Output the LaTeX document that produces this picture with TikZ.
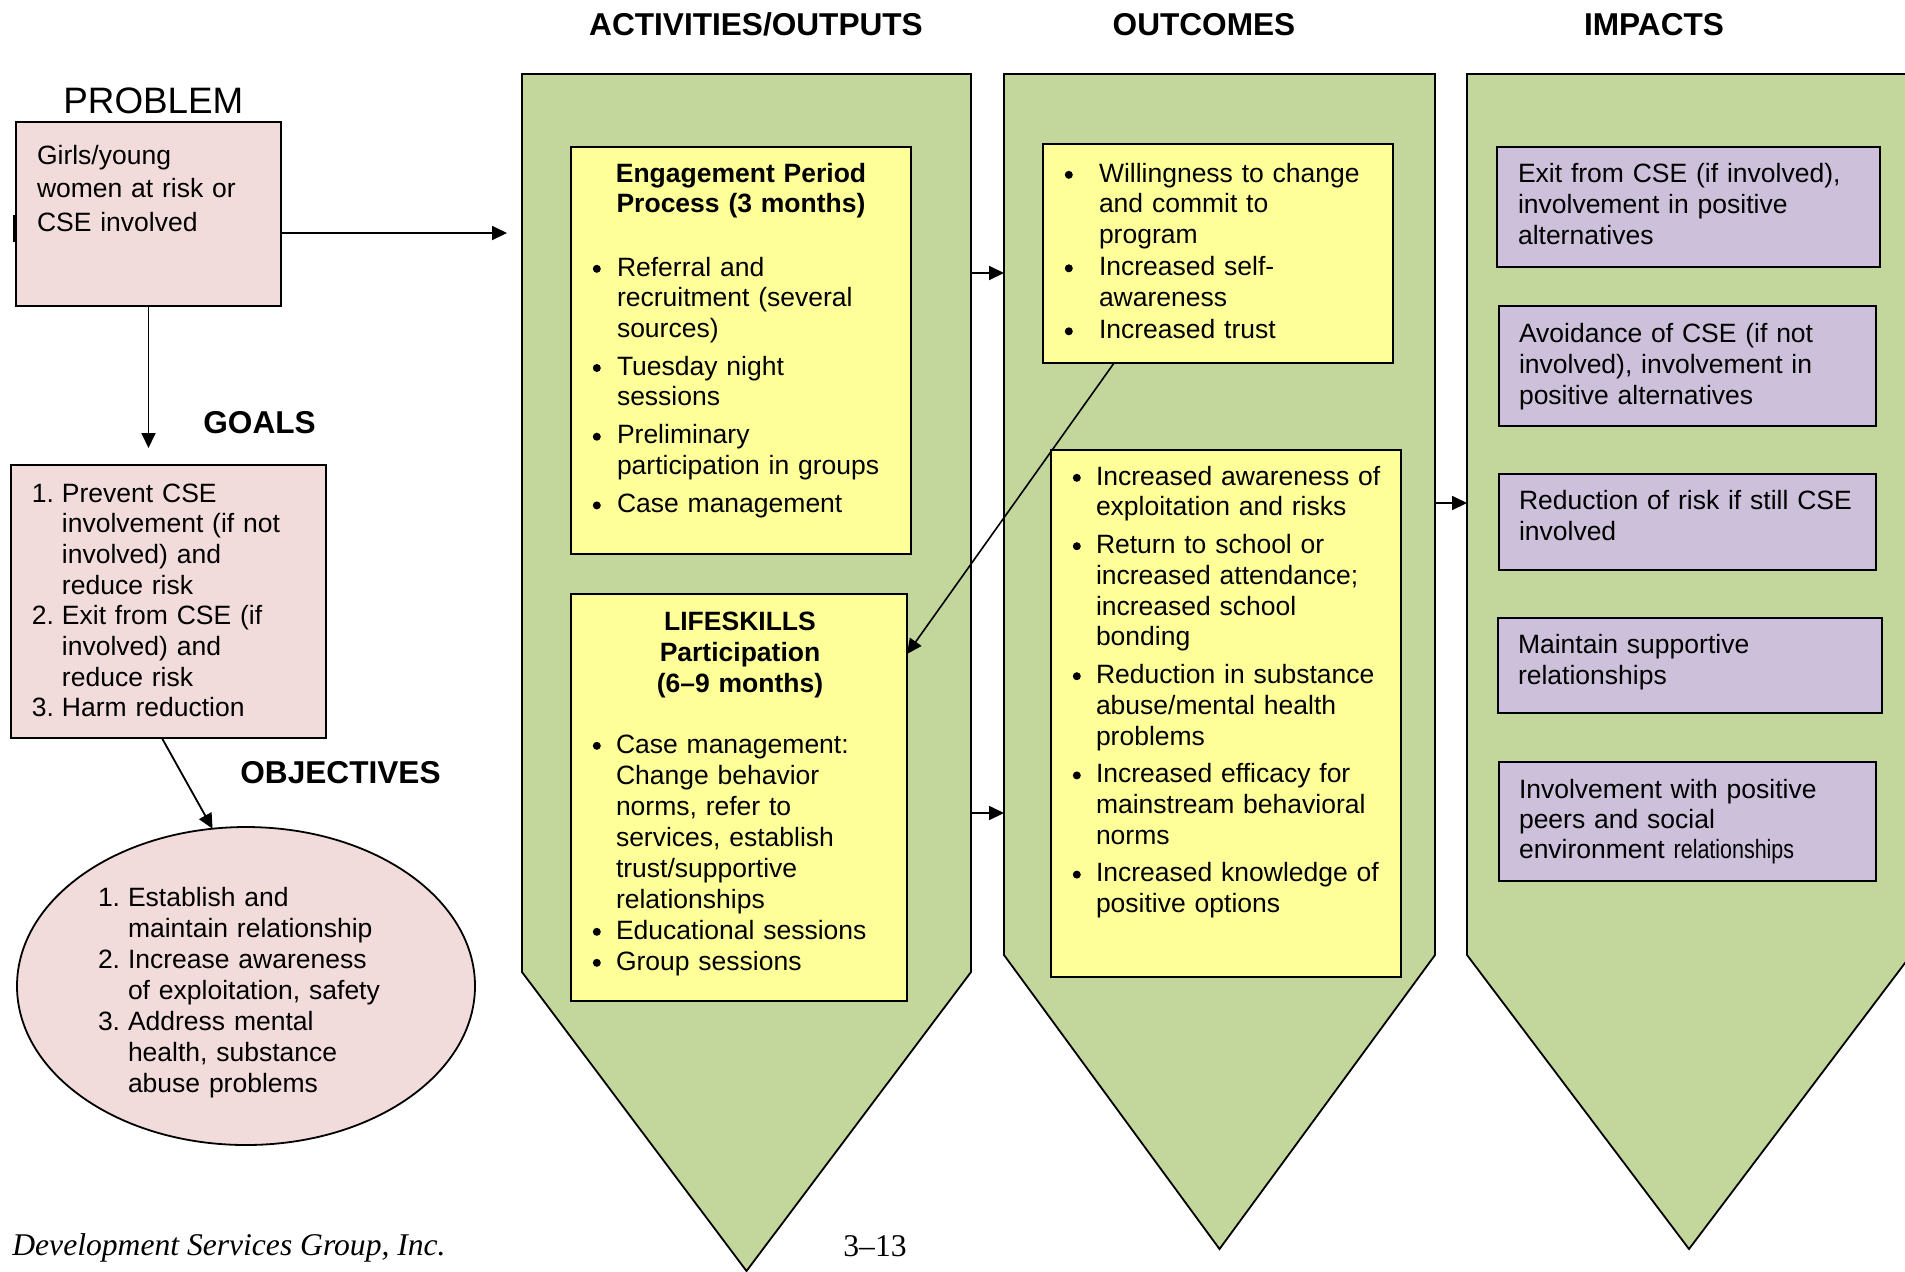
\documentclass[tikz,border=0pt]{standalone}
\usepackage{fontspec}
\usepackage{graphicx}
\setmainfont{Liberation Sans}
\newfontfamily\timesf{Liberation Serif}
\usetikzlibrary{arrows.meta,shapes.geometric,calc}
\definecolor{pinkf}{HTML}{F2DCDB}
\definecolor{greenf}{HTML}{C3D69B}
\definecolor{yellowf}{HTML}{FFFF99}
\definecolor{purplef}{HTML}{CCC0DA}
\setlength{\parskip}{0pt}
\newcommand\fs{\rule{0pt}{10pt}}
\newcommand\nl{\hfil\break}
\newcommand\bdot{\tikz[baseline=0pt]\fill[black] (0pt,3.6pt) circle (2pt);}
\newcommand\bitem[2]{\hangindent=#1\hangafter=1\noindent\hbox to #1{\fs\hskip0.4pt\bdot\hfil}#2\par}
\newcommand\nitem[3]{\hangindent=#1\hangafter=1\noindent\hbox to #1{\fs#2\hfil}#3\par}
\newcommand\bodyf[1]{\fontsize{13.25}{#1}\selectfont}
\tikzset{
  box/.style={draw=black, line width=1pt, inner sep=0pt, outer sep=0pt, anchor=north west},
  col/.style={draw=black, line width=0.9pt, fill=greenf},
  txt/.style={anchor=north west, inner sep=0pt, outer sep=0pt, text width=#1},
  hdr/.style={font={\fontsize{15.8}{18}\selectfont\bfseries}, anchor=base, inner sep=0pt},
  ttl/.style={anchor=north, inner sep=0pt, outer sep=0pt, text width=170pt, align=center},
  arr/.style={-{Triangle[length=7.5pt,width=7pt]}, line width=0.9pt},
}
\begin{document}
\begin{tikzpicture}[x=0.5pt,y=-0.5pt]
\useasboundingbox (0,0) rectangle (1905,1271);
\clip (0,0) rectangle (1905,1271);
% headers
\node[hdr] (h1) at (756,35) {ACTIVITIES/OUTPUTS};
\node[hdr] (h2) at (1204,35) {OUTCOMES};
\node[hdr] (h3) at (1654,35) {IMPACTS};
% columns
\path[col] (522,74) -- (971,74) -- (971,972) -- (746.5,1271) -- (522,972) -- cycle;
\path[col] (1004,74) -- (1435,74) -- (1435,955) -- (1219.5,1249) -- (1004,955) -- cycle;
\path[col] (1467,74) -- (1911,74) -- (1911,955) -- (1689,1249) -- (1467,955) -- cycle;
% left side
\node[anchor=base west, inner sep=0pt, font={\fontsize{18.4}{22}\selectfont}] (ptitle) at (63,113) {PROBLEM};
\node[box, fill=pinkf, minimum width=132.5pt, minimum height=92pt] (prob) at (16,122) {};
\draw[line width=1pt] (14,215) -- (14,242);
\node[txt=125pt, font={\bodyf{16.75pt}}] (probt) at (37,144) {\fs Girls/young\nl women at risk or\nl CSE involved\par};
\node[anchor=base west, inner sep=0pt, font={\fontsize{15.8}{18}\selectfont\bfseries}] (gtitle) at (203,433) {GOALS};
\node[box, fill=pinkf, minimum width=157.5pt, minimum height=136.5pt] (goals) at (11,465) {};
\node[txt=145pt, font={\bodyf{15.35pt}}] (goalst) at (32,482) {%
\nitem{15pt}{1.}{Prevent CSE\nl involvement (if not\nl involved) and\nl reduce risk}
\nitem{15pt}{2.}{Exit from CSE (if\nl involved) and\nl reduce risk}
\nitem{15pt}{3.}{Harm reduction}};
\node[anchor=base west, inner sep=0pt, font={\fontsize{15.8}{18}\selectfont\bfseries}] (otitle) at (240,783) {OBJECTIVES};
\node[ellipse, draw=black, line width=0.9pt, fill=pinkf, inner sep=0pt, outer sep=0pt, minimum width=229pt, minimum height=159pt] (obj) at (246,986) {};
\node[txt=150pt, font={\bodyf{15.5pt}}] (objt) at (98,886) {%
\nitem{15pt}{1.}{Establish and\nl maintain relationship}
\nitem{15pt}{2.}{Increase awareness\nl of exploitation, safety}
\nitem{15pt}{3.}{Address mental\nl health, substance\nl abuse problems}};
% activities
\node[box, fill=yellowf, minimum width=170pt, minimum height=203.5pt] (eng) at (571,147) {};
\node[ttl, font={\fontsize{13.25}{15}\selectfont\bfseries}] (engt) at (741,162) {\fs Engagement Period\\Process (3 months)};
\node[txt=160pt, font={\bodyf{15.25pt}}] (engb) at (592,256) {\parskip=3.85pt
\bitem{12.5pt}{Referral and\nl recruitment (several\nl sources)}
\bitem{12.5pt}{Tuesday night\nl sessions}
\bitem{12.5pt}{Preliminary\nl participation in groups}
\bitem{12.5pt}{Case management}};
\node[box, fill=yellowf, minimum width=168pt, minimum height=203.5pt] (life) at (571,594) {};
\node[ttl, font={\fontsize{13.25}{15.5}\selectfont\bfseries}] (lifet) at (740,610) {\fs LIFESKILLS\\Participation\\(6–9 months)};
\node[txt=160pt, font={\bodyf{15.5pt}}] (lifeb) at (592,733) {%
\bitem{12pt}{Case management:\nl Change behavior\nl norms, refer to\nl services, establish\nl trust/supportive\nl relationships}
\bitem{12pt}{Educational sessions}
\bitem{12pt}{Group sessions}};
% outcomes
\node[box, fill=yellowf, minimum width=175pt, minimum height=109.5pt] (will) at (1043,144) {};
\node[txt=160pt, font={\bodyf{15.25pt}}] (willb) at (1064,162) {\parskip=1pt
\bitem{17.5pt}{Willingness to change\nl and commit to\nl program}
\bitem{17.5pt}{Increased self-\nl awareness}
\bitem{17.5pt}{Increased trust}};
\node[box, fill=yellowf, minimum width=175pt, minimum height=263.5pt] (out2) at (1051,450) {};
\node[txt=160pt, font={\bodyf{15.4pt}}] (out2b) at (1072,465) {\parskip=3.4pt
\bitem{12pt}{Increased awareness of\nl exploitation and risks}
\bitem{12pt}{Return to school or\nl increased attendance;\nl increased school\nl bonding}
\bitem{12pt}{Reduction in substance\nl abuse/mental health\nl problems}
\bitem{12pt}{Increased efficacy for\nl mainstream behavioral\nl norms}
\bitem{12pt}{Increased knowledge of\nl positive options}};
% impacts
\node[box, fill=purplef, minimum width=191.5pt, minimum height=60pt] (imp1) at (1497,147) {};
\node[txt=180pt, font={\bodyf{15.5pt}}] (imp1t) at (1518,162) {\fs Exit from CSE (if involved),\nl involvement in positive\nl alternatives\par};
\node[box, fill=purplef, minimum width=188.5pt, minimum height=60pt] (imp2) at (1499,306) {};
\node[txt=180pt, font={\bodyf{15.5pt}}] (imp2t) at (1519,322) {\fs Avoidance of CSE (if not\nl involved), involvement in\nl positive alternatives\par};
\node[box, fill=purplef, minimum width=188.5pt, minimum height=48pt] (imp3) at (1499,474) {};
\node[txt=180pt, font={\bodyf{15.5pt}}] (imp3t) at (1519,489) {\fs Reduction of risk if still CSE\nl involved\par};
\node[box, fill=purplef, minimum width=192pt, minimum height=47.5pt] (imp4) at (1498,618) {};
\node[txt=180pt, font={\bodyf{15.5pt}}] (imp4t) at (1518,633) {\fs Maintain supportive\nl relationships\par};
\node[box, fill=purplef, minimum width=188.5pt, minimum height=59.5pt] (imp5) at (1499,762) {};
\node[txt=180pt, font={\bodyf{15pt}}] (imp5t) at (1519,778) {\fs Involvement with positive\nl peers and social\nl environment \scalebox{0.81}[1]{relationships}\par};
% footer
\node[anchor=base west, inner sep=0pt, font={\timesf\itshape\fontsize{15.8}{18}\selectfont}] (foot) at (12,1255) {Development Services Group, Inc.};
\node[anchor=base west, inner sep=0pt, font={\timesf\fontsize{15.8}{18}\selectfont}] (pg) at (843,1256) {3–13};
% connector end points
\coordinate (pa) at (507,233);
\coordinate (ga) at (148.5,448);
\coordinate (actR1) at (971,273);
\coordinate (outL1) at (1004,273);
\coordinate (actR2) at (971,813);
\coordinate (outL2) at (1004,813);
\coordinate (outR) at (1435,503);
\coordinate (impL) at (1467,503);
% connectors
\draw[arr] (prob.east |- pa) -- (pa);
\draw[arr] (prob.south) -- (ga);
\draw[arr] ($(goals.south west)!0.479!(goals.south east)$) -- (obj.102);
\draw[arr] (actR1) -- (outL1);
\draw[arr] (actR2) -- (outL2);
\draw[arr] (outR) -- (impL);
\draw[arr, line width=0.8pt] ($(will.south west)!0.203!(will.south east)$) -- ([yshift=-30pt]life.north east);
\end{tikzpicture}
\end{document}
